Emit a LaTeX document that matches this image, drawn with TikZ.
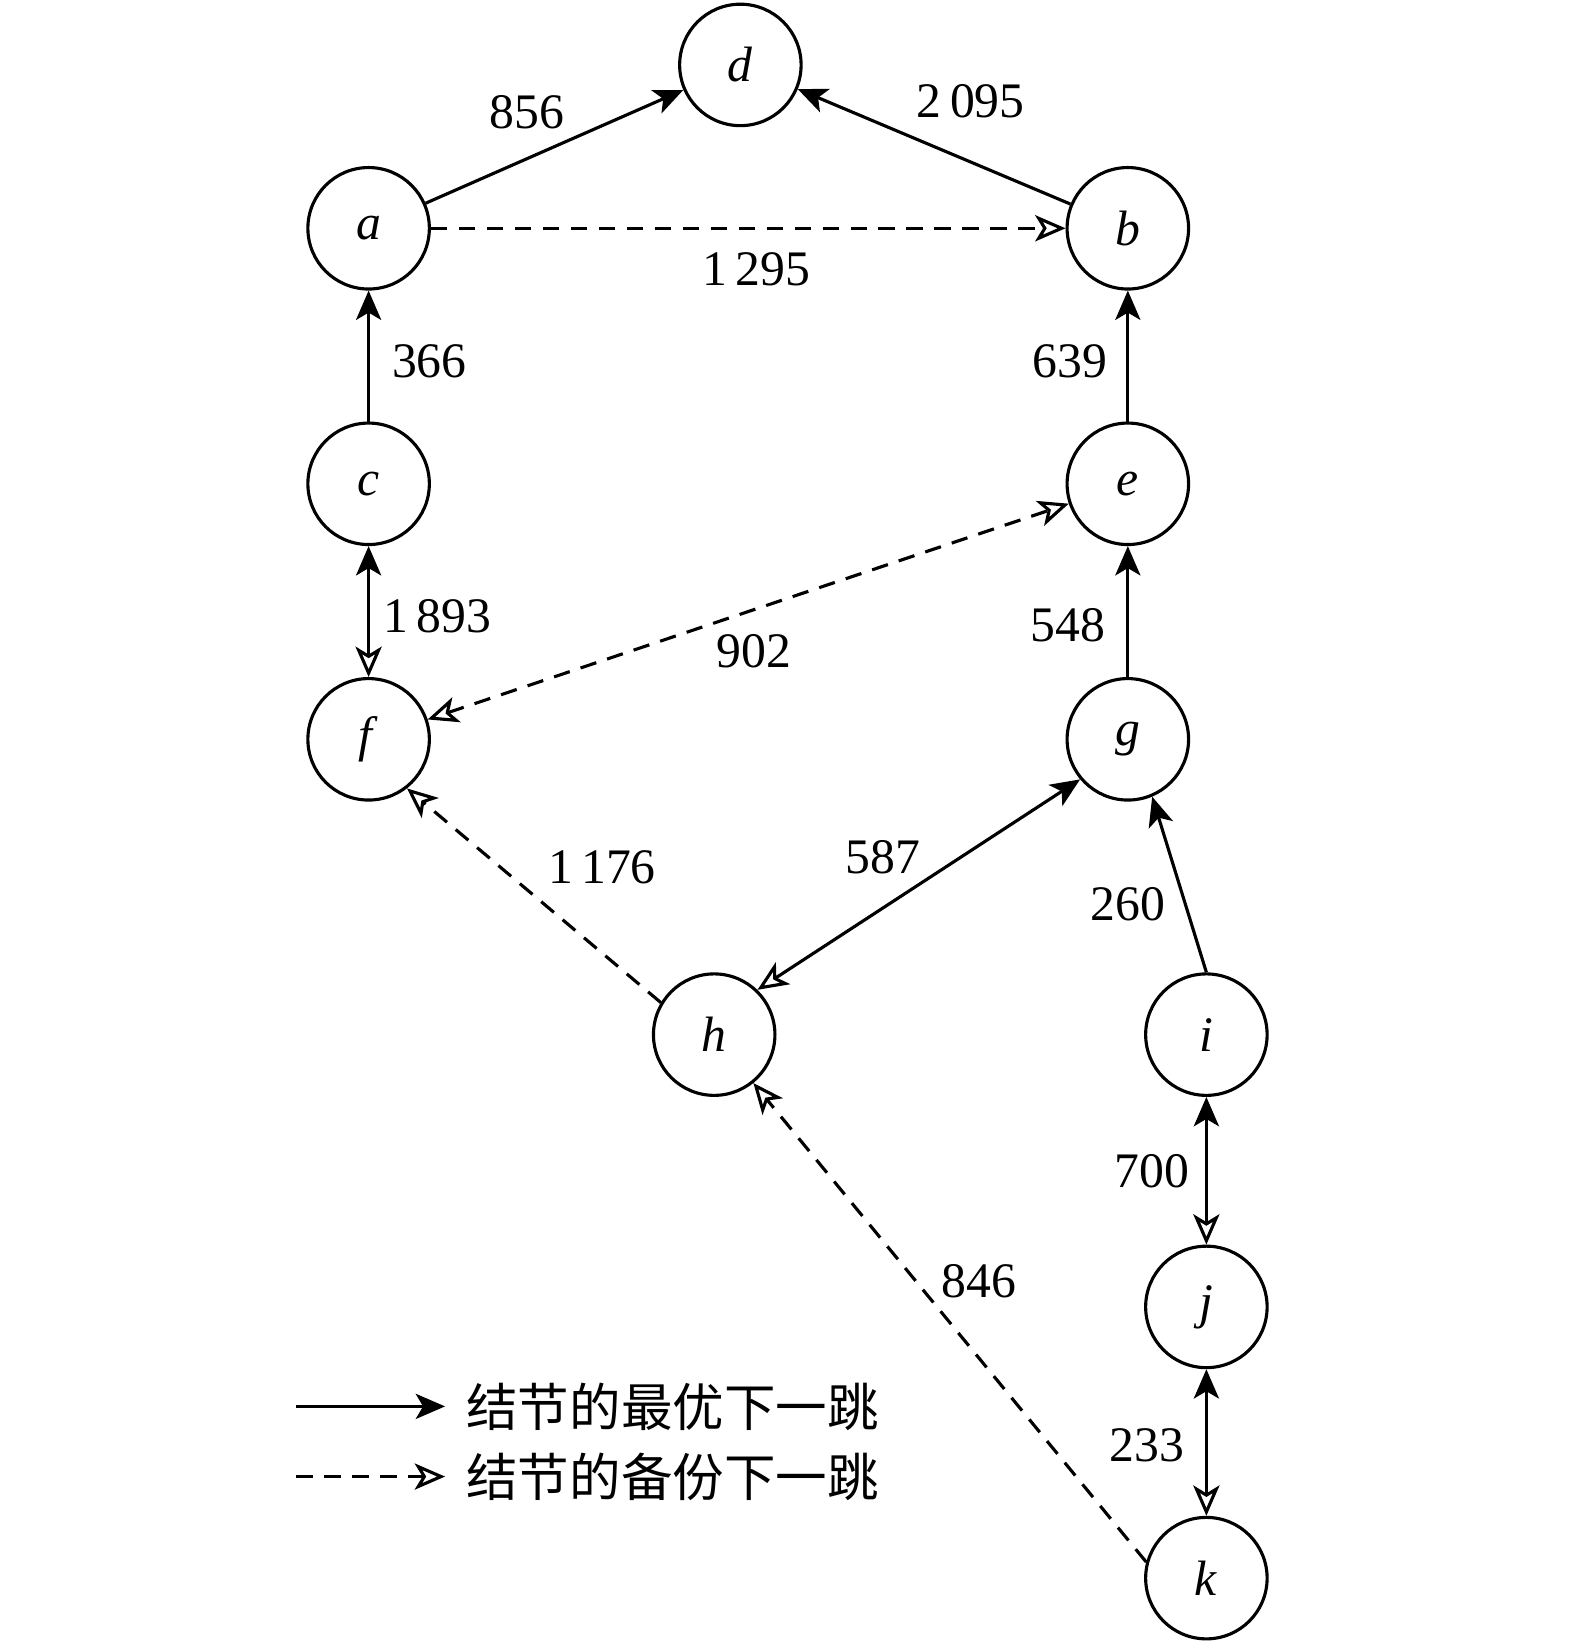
\documentclass[tikz,border=0pt]{standalone}
\usepackage{fontspec}
\setmainfont{Liberation Serif}
\newfontfamily\cjk{Noto Sans CJK SC}
\usetikzlibrary{arrows.meta,positioning}

\begin{document}
\begin{tikzpicture}[
    font=\fontsize{13.5}{16}\selectfont,
    router/.style={circle, draw, line width=0.85pt, minimum size=11.6mm, inner sep=0pt},
    best/.style={line width=0.85pt, -{Stealth[length=2.8mm,width=2.4mm,inset=0.7mm]}},
    backup/.style={line width=0.85pt, dash pattern=on 4.5pt off 3.1pt, -{Stealth[open,length=2.9mm,width=2.5mm,inset=0.75mm]}},
    mixed/.style={line width=0.85pt, {Stealth[open,length=2.9mm,width=2.5mm,inset=0.75mm]}-{Stealth[length=2.8mm,width=2.4mm,inset=0.7mm]}},
    twoback/.style={line width=0.85pt, dash pattern=on 4.5pt off 3.1pt, {Stealth[open,length=2.9mm,width=2.5mm,inset=0.75mm]}-{Stealth[open,length=2.9mm,width=2.5mm,inset=0.75mm]}}
]
    \useasboundingbox (0,0) rectangle (15.04,-15.68);
    \node[router] (d) at (7.07,-0.62) {\textit{d}};
    \node[router] (a) at (3.52,-2.18) {\textit{a}};
    \node[router] (b) at (10.77,-2.18) {\textit{b}};
    \node[router] (c) at (3.52,-4.62) {\textit{c}};
    \node[router] (e) at (10.77,-4.62) {\textit{e}};
    \node[router] (f) at (3.52,-7.06) {\textit{f}};
    \node[router] (g) at (10.77,-7.06) {\textit{g}};
    \node[router] (h) at (6.82,-9.88) {\textit{h}};
    \node[router] (i) at (11.52,-9.88) {\textit{i}};
    \node[router] (j) at (11.52,-12.48) {\textit{j}};
    \node[router] (k) at (11.52,-15.07) {\textit{k}};

    \draw[best] (a) -- (d) node[midway, shift={(-0.265,0.33)}] {856};
    \draw[best] (b) -- (d) node[midway, shift={(0.35,0.43)}] {2\,095};
    \draw[backup] (a) -- (b) node[midway, shift={(0.075,-0.39)}] {1\,295};
    \draw[best] (c) -- (a) node[midway, shift={(0.58,-0.05)}] {366};
    \draw[best] (e) -- (b) node[midway, shift={(-0.55,-0.05)}] {639};
    \draw[mixed] (f) -- (c) node[midway, shift={(0.66,-0.04)}] {1\,893};
    \draw[twoback] (f) -- (e) node[midway, shift={(0.055,-0.38)}] {902};
    \draw[best] (g) -- (e) node[midway, shift={(-0.57,-0.13)}] {548};
    \draw[backup] (h.149) -- (f.-52) node[midway, shift={(0.65,0.27)}] {1\,176};
    \draw[mixed] (h.46) -- (g.220) node[midway, shift={(-0.345,0.265)}] {587};
    \draw[best] (i.north) -- (g.-67) node[midway, shift={(-0.49,-0.185)}] {260};
    \draw[mixed] (j) -- (i) node[midway, shift={(-0.52,0)}] {700};
    \draw[mixed] (k) -- (j) node[midway, shift={(-0.57,-0.025)}] {233};
    \draw[backup] (k.165) -- (h.-51) node[midway, shift={(0.28,0.395)}] {846};

    \coordinate (bestL) at (2.83,-13.43);
    \coordinate (bestR) at (4.25,-13.43);
    \coordinate (backL) at (2.83,-14.1);
    \coordinate (backR) at (4.25,-14.1);
    \draw[best] (bestL) -- (bestR);
    \draw[backup] (backL) -- (backR);
    \node[right=0.08cm of bestR, font=\cjk\fontsize{14}{16}\selectfont] (bestT) {结节的最优下一跳};
    \node[right=0.08cm of backR, font=\cjk\fontsize{14}{16}\selectfont] (backT) {结节的备份下一跳};
\end{tikzpicture}
\end{document}
